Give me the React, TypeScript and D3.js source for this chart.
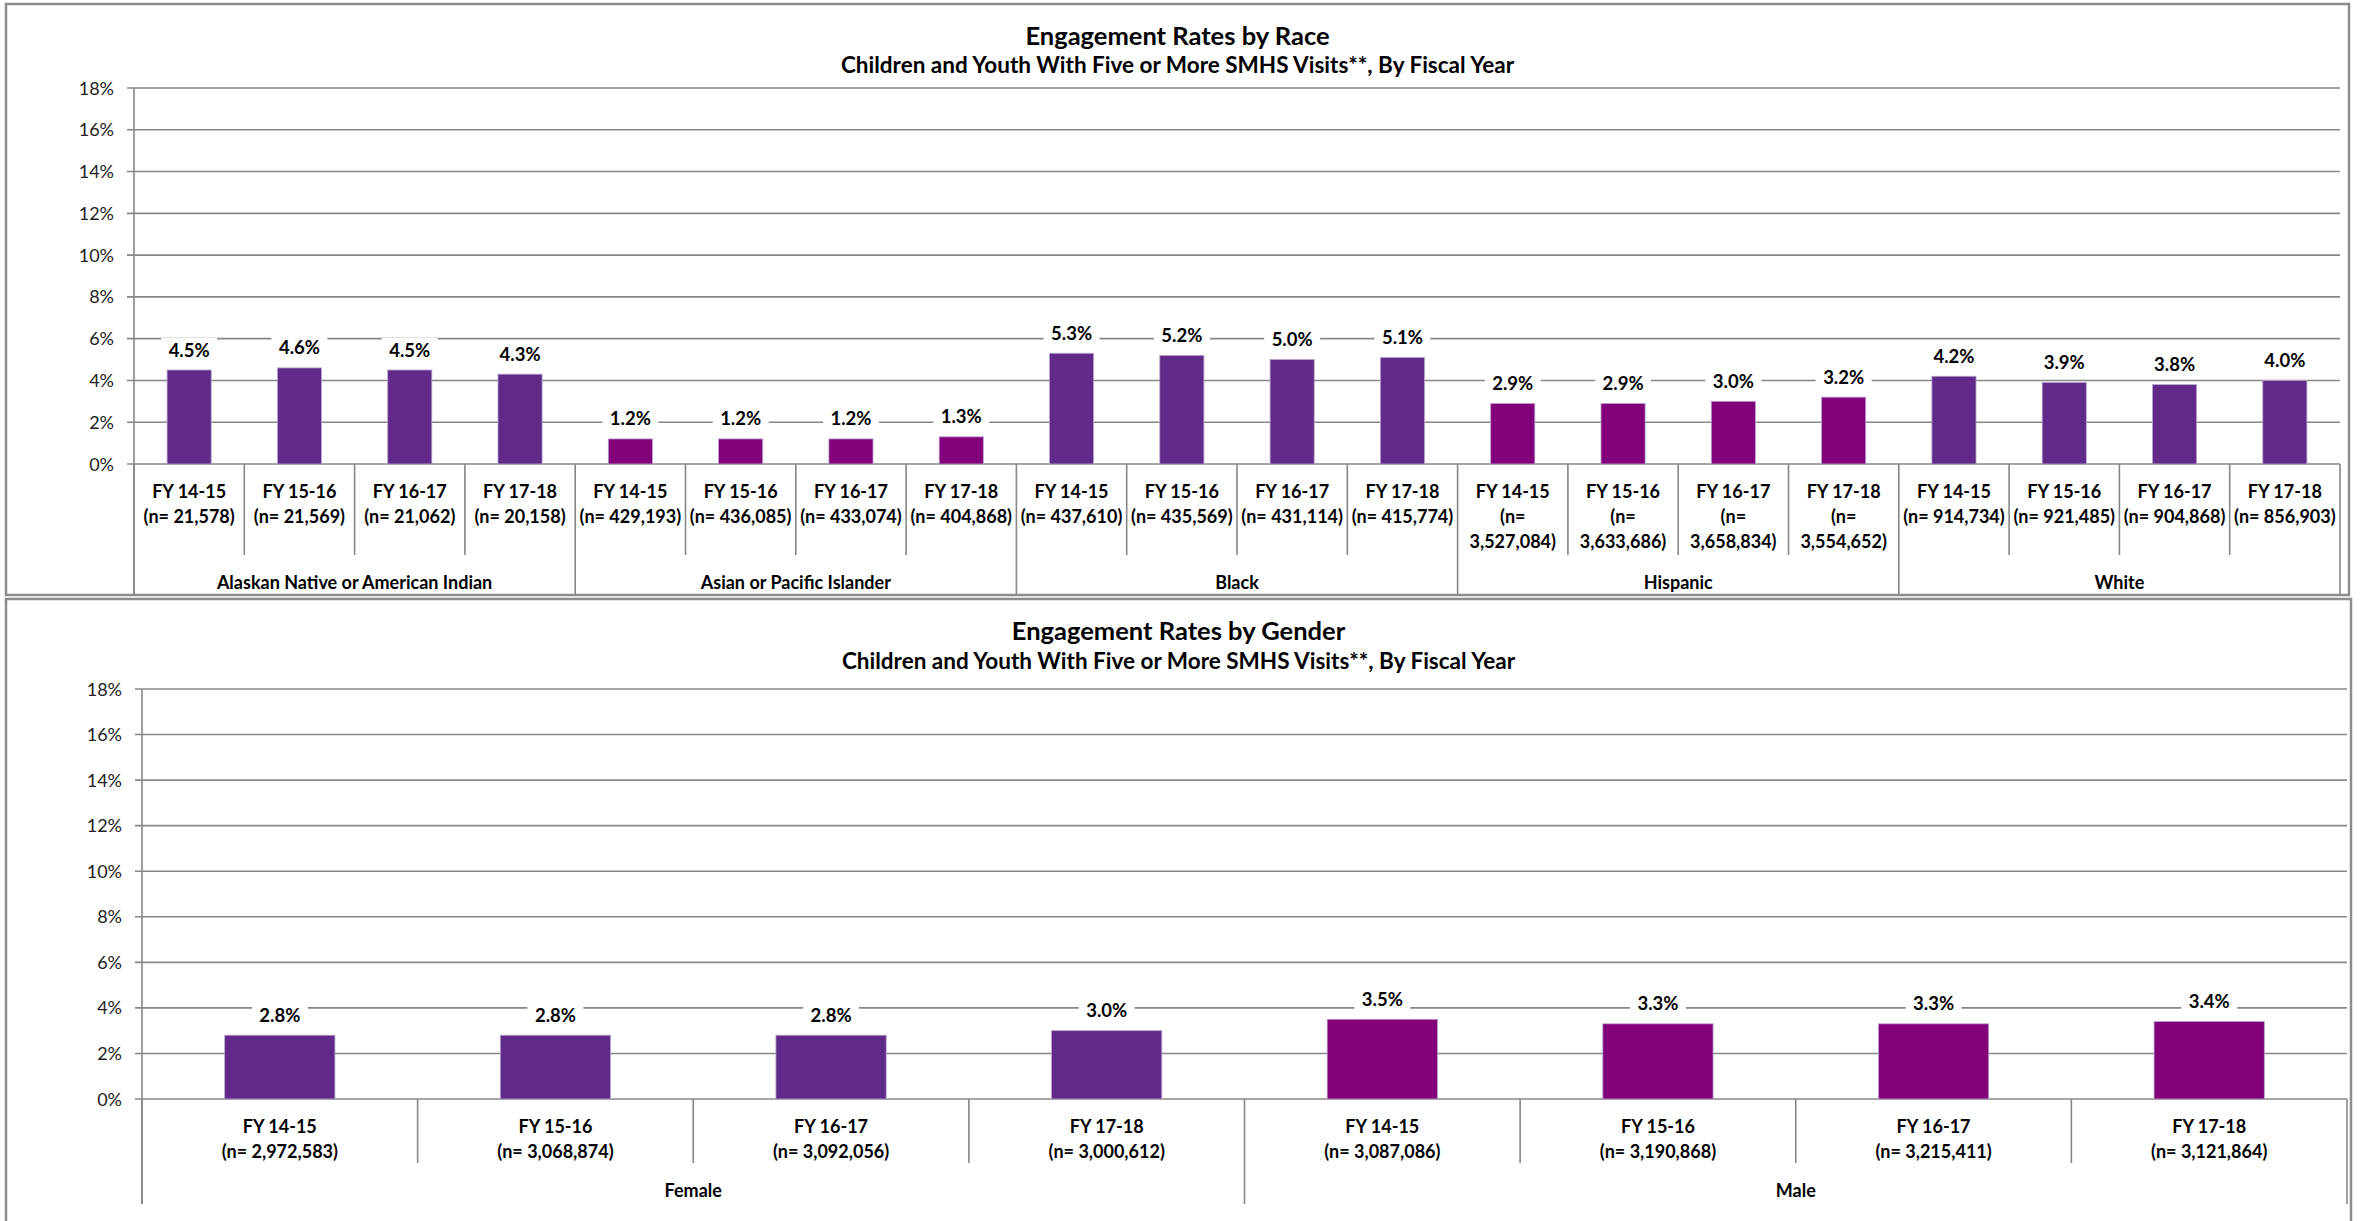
import * as d3 from "d3";
import React from 'react'

const years = ['FY 14-15', 'FY 15-16', 'FY 16-17', 'FY 17-18']

const raceGroups = ['Alaskan Native or American Indian', 'Asian or Pacific Islander', 'Black', 'Hispanic', 'White']
const raceRates = [
  [4.5, 4.6, 4.5, 4.3],
  [1.2, 1.2, 1.2, 1.3],
  [5.3, 5.2, 5.0, 5.1],
  [2.9, 2.9, 3.0, 3.2],
  [4.2, 3.9, 3.8, 4.0]
]
const raceN = [
  ['21,578', '21,569', '21,062', '20,158'],
  ['429,193', '436,085', '433,074', '404,868'],
  ['437,610', '435,569', '431,114', '415,774'],
  ['3,527,084', '3,633,686', '3,658,834', '3,554,652'],
  ['914,734', '921,485', '904,868', '856,903']
]
const raceColors = ['#612a88', '#820079', '#612a88', '#820079', '#612a88']

const genderGroups = ['Female', 'Male']
const genderRates = [
  [2.8, 2.8, 2.8, 3.0],
  [3.5, 3.3, 3.3, 3.4]
]
const genderN = [
  ['2,972,583', '3,068,874', '3,092,056', '3,000,612'],
  ['3,087,086', '3,190,868', '3,215,411', '3,121,864']
]
const genderColors = ['#612a88', '#820079']

const yTicks = [0, 2, 4, 6, 8, 10, 12, 14, 16, 18]
const subtitle = 'Children and Youth With Five or More SMHS Visits**, By Fiscal Year'

const FONT = 'Lato, "Open Sans", sans-serif'
const GRID = '#878787'

// rough text width for deciding when a label must wrap
let ctx: CanvasRenderingContext2D | null = null
const textWidth = (s: string, font: string) => {
  if (!ctx) ctx = document.createElement('canvas').getContext('2d')
  if (!ctx) return s.length * 9
  ctx.font = font
  return ctx.measureText(s).width
}

type PanelProps = {
  title: string
  groups: string[]
  rates: number[][]
  ns: string[][]
  colors: string[]
  box: { x: number, y: number, w: number, h: number }
  x0: number
  x1: number
  yTop: number
  yZero: number
  titleY: number
  subY: number
  lineY: number[]
  groupY: number
  innerBottom: number
  groupBottom: number
}

function Panel(p: PanelProps) {
  const flat = p.groups.flatMap((g, gi) => years.map((yr, i) => ({
    key: g + '|' + yr,
    group: gi,
    year: yr,
    rate: p.rates[gi][i],
    n: p.ns[gi][i],
    color: p.colors[gi]
  })))

  const x = d3.scaleBand()
    .domain(flat.map(d => d.key))
    .range([p.x0, p.x1])
    .paddingInner(0.6)
    .paddingOuter(0.3)
  const step = x.step()
  const y = d3.scaleLinear()
    .domain([0, 18])
    .range([p.yZero, p.yTop])

  const labelFont = `bold 18px ${FONT}`
  const groupEdges = p.groups.map((_, gi) => x(flat[gi * years.length].key)! - step * 0.3)
  groupEdges.push(p.x1)

  return (
    <g>
      <rect x={p.box.x} y={p.box.y} width={p.box.w} height={p.box.h}
        fill="#fff" stroke="#8c8c8c" strokeWidth={2.5} />
      <text x={p.box.x + p.box.w / 2} y={p.titleY} textAnchor="middle"
        fontFamily={FONT} fontWeight="bold" fontSize={25.5}>{p.title}</text>
      <text x={p.box.x + p.box.w / 2} y={p.subY} textAnchor="middle"
        fontFamily={FONT} fontWeight="bold" fontSize={22.5}>{subtitle}</text>

      {yTicks.map(t => (
        <g key={t}>
          <line x1={p.x0 - 7} x2={p.x1} y1={y(t)} y2={y(t)} stroke={GRID} strokeWidth={1.6} />
          <text x={p.x0 - 20} y={y(t) + 6.5} textAnchor="end" fontFamily={FONT}
            fontSize={18} fill="#222">{t + '%'}</text>
        </g>
      ))}
      <line x1={p.x0} x2={p.x0} y1={p.yTop} y2={p.groupBottom} stroke={GRID} strokeWidth={1.6} />

      {flat.map((d, i) => {
        const cx = x(d.key)! + x.bandwidth() / 2
        const edge = x(d.key)! - step * 0.3
        const isGroupEdge = i % years.length === 0
        const nLabel = '(n= ' + d.n + ')'
        const wrap = textWidth(nLabel, labelFont) > step - 8
        const lines = wrap ? [d.year, '(n=', d.n + ')'] : [d.year, nLabel]
        const vLabel = d.rate.toFixed(1) + '%'
        const vw = textWidth(vLabel, labelFont)
        const top = y(d.rate)
        return (
          <g key={d.key}>
            {!isGroupEdge && (
              <line x1={edge} x2={edge} y1={p.yZero} y2={p.innerBottom} stroke={GRID} strokeWidth={1.6} />
            )}
            <rect x={x(d.key)} y={top} width={x.bandwidth()} height={p.yZero - top}
              fill={d.color} stroke="#b7a3cf" strokeWidth={0.8} />
            <rect x={cx - vw / 2 - 8} y={top - 32} width={vw + 16} height={24} fill="#fff" />
            <text x={cx} y={top - 13.5} textAnchor="middle" fontFamily={FONT}
              fontWeight="bold" fontSize={18.5}>{vLabel}</text>
            {lines.map((l, li) => (
              <text key={li} x={cx} y={p.lineY[li]} textAnchor="middle" fontFamily={FONT}
                fontWeight="bold" fontSize={18}>{l}</text>
            ))}
          </g>
        )
      })}

      {groupEdges.map((gx, gi) => (
        <line key={gi} x1={gx} x2={gx} y1={p.yZero} y2={p.groupBottom} stroke={GRID} strokeWidth={1.6} />
      ))}
      {p.groups.map((g, gi) => (
        <text key={g} x={(groupEdges[gi] + groupEdges[gi + 1]) / 2} y={p.groupY} textAnchor="middle"
          fontFamily={FONT} fontWeight="bold" fontSize={18}>{g}</text>
      ))}
    </g>
  )
}

export default function App() {
  return (
    <svg width={2360} height={1221} style={{ position: 'absolute', left: 0, top: 0, display: 'block', background: '#fff' }}>
      <Panel title="Engagement Rates by Race" groups={raceGroups} rates={raceRates} ns={raceN}
        colors={raceColors} box={{ x: 6, y: 4, w: 2343, h: 591 }}
        x0={134} x1={2340} yTop={88} yZero={464} titleY={45} subY={73}
        lineY={[498, 523, 548]} groupY={589} innerBottom={555} groupBottom={595} />
      <Panel title="Engagement Rates by Gender" groups={genderGroups} rates={genderRates} ns={genderN}
        colors={genderColors} box={{ x: 6, y: 599, w: 2345, h: 700 }}
        x0={142} x1={2347} yTop={689} yZero={1099} titleY={640} subY={669}
        lineY={[1133, 1158]} groupY={1197} innerBottom={1163} groupBottom={1204} />
    </svg>
  )
}
